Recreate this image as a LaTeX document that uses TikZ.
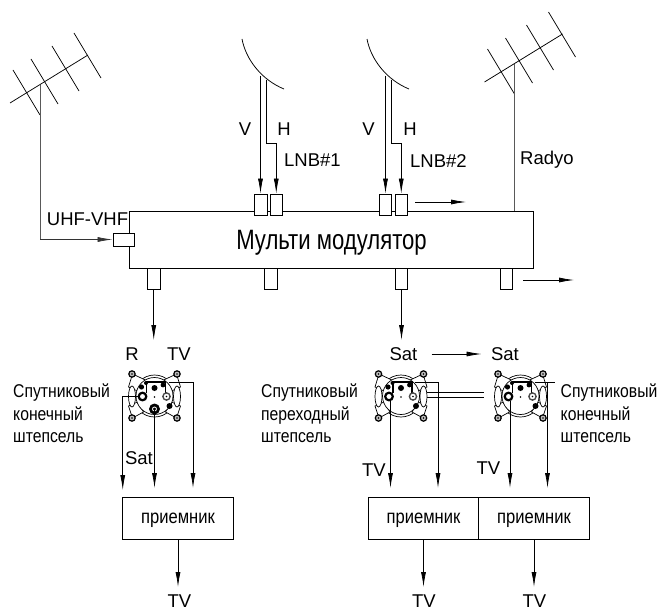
\documentclass[tikz,border=0pt]{standalone}
\usepackage{fontspec}
\setmainfont{Liberation Sans}
\newfontfamily\cyrfont[FakeStretch=0.85]{Liberation Sans}
\newfontfamily\cyrtitle[FakeStretch=0.79]{Liberation Sans}
\usetikzlibrary{arrows.meta}
\tikzset{
    wire/.style={draw, line width=0.75pt},
    sigwire/.style={wire, -{Latex[length=15pt,width=5pt]}},
    mast/.style={draw, line width=1pt, black!65},
    plug/.style={draw, line width=0.8pt, fill=white, inner sep=0pt, minimum width=12.5pt, minimum height=21pt},
    sideplug/.style={plug, minimum width=21pt, minimum height=13pt},
    label/.style={inner sep=0pt, font=\fontsize{18.5}{22}\selectfont},
    cyrlabel/.style={inner sep=0pt, align=left, font=\fontsize{18.5}{22.5}\selectfont\cyrfont},
    recvbox/.style={draw, line width=0.8pt, inner sep=0pt, text depth=0pt, minimum height=42.5pt, font=\fontsize{19.5}{24}\selectfont\cyrfont},
    antenna/.pic={
        \draw[wire] (-30,18) -- (48,-30);
        \foreach \xa/\ya in {-27/-15, -9/-26, 12/-39, 34/-52}
            \draw[wire] (\xa,\ya) -- ++(27,45);
        \coordinate (-foot) at (0,0);
    },
    dish/.pic={
        \draw[wire] (0,0) .. controls (4,21) and (20,41) .. (42,50);
        \coordinate (-v) at (18.5,37);
        \coordinate (-h) at (24.5,41);
    },
    socket/.pic={
        \draw[line width=0.7pt] (0,0) circle (21);
        \draw[line width=0.7pt, fill=white] (-22,-22) -- (-7,-15) -- (-17,-5) -- (-26,-9) -- cycle;
        \draw[line width=0.7pt, fill=white] (22,-22) -- (7,-15) -- (17,-5) -- (26,-9) -- cycle;
        \draw[line width=0.7pt, fill=white] (-22,22) -- (-11,16) -- (-17,6) -- (-26,10) -- cycle;
        \draw[line width=0.7pt, fill=white] (22,22) -- (11,16) -- (17,6) -- (26,10) -- cycle;
        \draw[line width=0.7pt, fill=white] (0,0) circle (18.5);
        \foreach \xa in {-22.5,22.5} {
            \draw[line width=0.7pt, fill=white] (\xa,0.5) ellipse (3.5 and 10.5);
            \foreach \ya in {-22,22} {
                \draw[line width=1.2pt, fill=black!25] (\xa,\ya) circle (3.2);
                \fill (\xa,\ya) circle (0.9);
            }
        }
        \draw[line width=1.1pt] (-8,-3) -- (-8,-14) -- (11,-14) -- (11,-3);
        \fill (-13,-9) circle (2.6) (-8.5,-13) circle (2) (0,-8) circle (3) (8.5,-11) circle (2.4) (15,10) circle (3);
        \draw[line width=2.2pt, fill=white] (-12,0.5) circle (3.8);
        \draw[line width=1.4pt, draw=black!70, fill=white] (12,0.5) circle (3.6);
        \fill (12,0.5) circle (0.8);
        \fill (0,1) circle (0.9);
        \coordinate (-left) at (-15.5,0.5);
        \coordinate (-conn) at (-10.5,4.5);
        \coordinate (-right) at (14,-14);
        \coordinate (-low) at (0,13);
    },
}
\begin{document}
\begin{tikzpicture}[x=1pt, y=-1pt]
    \useasboundingbox (0,0) rectangle (659,610);

    \pic (antl) at (40,85) {antenna};
    \pic (antr) at (514.5,64) {antenna};
    \pic (disha) at (242,39) {dish};
    \pic (dishb) at (367,39) {dish};

    \node[draw, line width=0.8pt, inner sep=0pt, text depth=0pt, minimum width=404pt, minimum height=57pt,
        font=\fontsize{28}{32}\selectfont\cyrtitle] (modul) at (331.5,239.5) {Мульти модулятор};

    \node[plug] (lnba1) at (260.75,204.5) {};
    \node[plug] (lnba2) at (276.25,204.5) {};
    \node[plug] (lnbb1) at (385.5,204.5) {};
    \node[plug] (lnbb2) at (401.25,204.5) {};
    \node[sideplug] (uhf) at (123.5,239.5) {};
    \node[plug] (outa) at (153.75,278.5) {};
    \node[plug] (outb) at (270.75,278.5) {};
    \node[plug] (outc) at (401.5,278.5) {};
    \node[plug] (outd) at (506.25,278.5) {};

    \draw[mast] (antl-foot) -- (antl-foot |- uhf.west);
    \draw[sigwire, black!80] (antl-foot |- uhf.west) -- (uhf.west);
    \draw[mast] (antr-foot) -- (antr-foot |- modul.north);

    \draw[sigwire] (disha-v) -- (disha-v |- lnba1.north);
    \draw[sigwire] (disha-h) |- (276.25,143.5) -- (lnba2.north);
    \draw[sigwire] (dishb-v) -- (dishb-v |- lnbb1.north);
    \draw[sigwire] (dishb-h) |- (401.25,143.5) -- (lnbb2.north);

    \coordinate (conta) at (415,202);
    \coordinate (contb) at (466,202);
    \coordinate (contc) at (523,280);
    \coordinate (contd) at (574,280);
    \draw[sigwire] (conta) -- (contb);
    \draw[sigwire] (contc) -- (contd);

    \node[label] (vlaba) at (245,129) {V};
    \node[label] (hlaba) at (284,129) {H};
    \node[label, anchor=west] (lnblaba) at (284,160) {LNB\#1};
    \node[label] (vlabb) at (368.5,129) {V};
    \node[label] (hlabb) at (410,129) {H};
    \node[label, anchor=west] (lnblabb) at (410,161) {LNB\#2};
    \node[label, anchor=west] (radyo) at (520,160) {Radyo};
    \node[label] (uhflab) at (87.5,219) {UHF-VHF};

    \draw[wire] (423,392.5) -- (484,392.5);
    \draw[wire] (423,397.5) -- (484,397.5);

    \pic (sockl) at (154.5,396) {socket};
    \pic (sockm) at (401,396) {socket};
    \pic (sockr) at (520.5,396) {socket};
    \fill (154.5,409) circle (5.5);
    \draw[white, line width=0.8pt] (154.5,409) circle (2);

    \coordinate (ina) at (153.75,340);
    \coordinate (inb) at (401.5,340);
    \draw[sigwire] (outa.south) -- (ina);
    \draw[sigwire] (outc.south) -- (inb);

    \node[label] (rlab) at (132,354) {R};
    \node[label] (tvlab) at (179,354) {TV};
    \node[label] (sata) at (403.5,354) {Sat};
    \node[label] (satb) at (505,354) {Sat};
    \coordinate (satfrom) at (431.5,354);
    \coordinate (satto) at (481.5,354);
    \draw[sigwire] (satfrom) -- (satto);

    \node[cyrlabel, anchor=west] (spa) at (13,413.5) {Спутниковый\\конечный\\штепсель};
    \node[cyrlabel, anchor=west] (spb) at (261,413.5) {Спутниковый\\переходный\\штепсель};
    \node[cyrlabel, anchor=west] (spc) at (560.5,413.5) {Спутниковый\\конечный\\штепсель};

    \node[recvbox, minimum width=110.5pt] (recva) at (178,518.5) {приемник};
    \node[recvbox, minimum width=110.5pt] (recvb) at (423.5,518.5) {приемник};
    \node[recvbox, minimum width=110.5pt] (recvc) at (534,518.5) {приемник};

    \draw[sigwire] (sockl-left) -| (122.75,490);
    \draw[sigwire] (sockl-low) ++(0,1) -- (154.5,488);
    \draw[sigwire] (sockl-right) -| (193,488);
    \draw[sigwire] (sockm-conn) -- (sockm-conn |- 0,488);
    \draw[sigwire] (sockm-right) -| (438,488);
    \draw[sigwire] (sockr-conn) -- (sockr-conn |- 0,488);
    \draw[wire] (sockr-right) -- (555,382);
    \draw[sigwire] (547.5,382) -- (547.5,488);

    \node[label] (satc) at (139,458) {Sat};
    \node[label] (tva) at (374,470) {TV};
    \node[label] (tvb) at (488.5,468) {TV};

    \node[label] (tvc) at (179.5,601) {TV};
    \node[label] (tvd) at (424,601) {TV};
    \node[label] (tve) at (534.5,601) {TV};
    \draw[sigwire] (recva.south) -- (178,587);
    \draw[sigwire] (recvb.south) -- (423.5,587);
    \draw[sigwire] (recvc.south) -- (534,587);
\end{tikzpicture}
\end{document}
